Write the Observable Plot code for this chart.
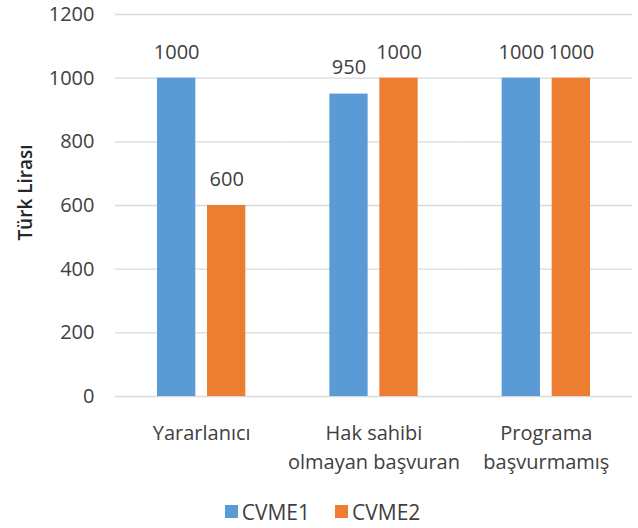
<!DOCTYPE html>
<html><head><meta charset="utf-8">
<script src="https://cdn.jsdelivr.net/npm/d3@7"></script>
<script src="https://cdn.jsdelivr.net/npm/@observablehq/plot@0.6"></script>
<style>
body{margin:0;background:#fff;font-family:"Open Sans",sans-serif;}
#legend div[class*="-swatches"]{justify-content:center;padding-left:32px;min-height:33px;font-family:"Open Sans",sans-serif !important;font-size:21px !important;color:#404040 !important;}
#legend div[class*="-swatches"] > span{margin-right:25px !important;}
#legend div[class*="-swatches"] > span svg{margin-right:4px !important;}
</style></head><body><div id="chart"></div><div id="legend"></div>
<script>
const categories = ["Yararlanıcı", "Hak sahibi\nolmayan başvuran", "Programa\nbaşvurmamış"];
const series = ["CVME1", "CVME2"];
const cvme1 = [1000, 950, 1000];
const cvme2 = [600, 1000, 1000];
const yTicks = [0, 200, 400, 600, 800, 1000, 1200];
const yLabel = "Türk Lirası";
const colors = ["#5B9BD5", "#ED7D31"];

const data = categories.flatMap((c, i) => [
  {category: c, series: series[0], value: cvme1[i]},
  {category: c, series: series[1], value: cvme2[i]}
]);

const chart = Plot.plot({
  width: 638, height: 495,
  marginTop: 14, marginBottom: 99, marginLeft: 115, marginRight: 6,
  style: {fontFamily: '"Open Sans", sans-serif', fontSize: "20px", color: "#404040", background: "white"},
  fx: {domain: categories, padding: 0, label: null, round: false},
  x: {domain: series, paddingInner: 0.234, paddingOuter: 0.84, axis: null, round: false},
  y: {domain: [0, 1200], label: null},
  color: {domain: series, range: colors},
  marks: [
    Plot.gridY(yTicks, {stroke: "#d9d9d9", strokeOpacity: 1, strokeWidth: 1.3}),
    Plot.axisY(yTicks, {tickSize: 0, tickPadding: 21, label: null, tickFormat: d => String(d), fontSize: 20, fill: "#404040"}),
    Plot.text([yLabel], {frameAnchor: "left", facetAnchor: "left", rotate: -90, dx: -90, dy: -13, fontSize: 19, fontWeight: 600, fill: "#262626", lineAnchor: "middle", textAnchor: "middle"}),
    Plot.axisFx({anchor: "bottom", tickSize: 0, tickPadding: 23, lineHeight: 1.45, label: null, fontSize: 20, fill: "#404040"}),
    Plot.barY(data, {fx: "category", x: "series", y: "value", fill: "series"}),
    Plot.text(data, {fx: "category", x: "series", y: "value", text: d => String(d.value), dy: -26, lineAnchor: "middle", fontSize: 20, fill: "#404040"})
  ]
});
document.getElementById("chart").appendChild(chart);

const legend = Plot.legend({color: {domain: series, range: colors}, swatchSize: 13});
document.getElementById("legend").appendChild(legend);
</script></body></html>
